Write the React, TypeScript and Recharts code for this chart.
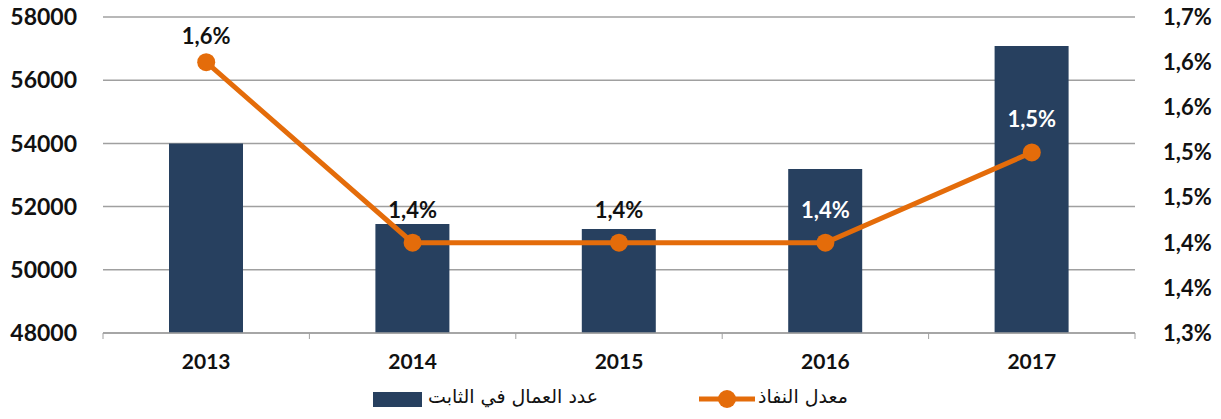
import React from "react";
import {
  ComposedChart,
  Bar,
  Line,
  XAxis,
  YAxis,
  CartesianGrid,
  LabelList,
} from "recharts";

const years = ["2013", "2014", "2015", "2016", "2017"];
const workers = [54000, 51450, 51290, 53190, 57080];
const rate = [1.6, 1.4, 1.4, 1.4, 1.5];
const leftTicks = [48000, 50000, 52000, 54000, 56000, 58000];
const rightTicks = [1.3, 1.35, 1.4, 1.45, 1.5, 1.55, 1.6, 1.65];

const BAR_NAME = "عدد العمال في الثابت";
const LINE_NAME = "معدل النفاذ";

const NAVY = "#27405f";
const ORANGE = "#e46c0a";
const GRID = "#a0a0a0";
const FONT = "Lato, 'Open Sans', sans-serif";

const data = years.map((y, i) => ({ year: y, workers: workers[i], rate: rate[i] }));

const fmtPct = (v: number) =>
  (Math.round(v * 10 + 1e-9) / 10).toFixed(1).replace(".", ",") + "%";

// Excel-style ticks between categories
function YearTick(props: any) {
  const { x, y, payload, index, visibleTicksCount } = props;
  const half = payload.offset || 103;
  const top = y - 8;
  return (
    <g>
      <line x1={x - half} x2={x - half} y1={top} y2={top + 6} stroke={GRID} />
      {index === visibleTicksCount - 1 && (
        <line x1={x + half} x2={x + half} y1={top} y2={top + 6} stroke={GRID} />
      )}
      <text
        x={x}
        y={y + 28}
        textAnchor="middle"
        fontSize={21}
        fontWeight={700}
        fontFamily={FONT}
        fill="#111"
      >
        {payload.value}
      </text>
    </g>
  );
}

function RateLabel(props: any) {
  const { x, y, value, index } = props;
  // labels sitting on top of a bar are white
  const onBar = workers[index] > 52000 && index > 0;
  return (
    <text
      x={x}
      y={Math.max(y - 33, 36)}
      dy={8}
      textAnchor="middle"
      fontSize={22}
      fontWeight={700}
      fontFamily={FONT}
      fill={onBar ? "#fff" : "#111"}
    >
      {fmtPct(value)}
    </text>
  );
}

export default function App() {
  return (
    <div style={{ position: "absolute", left: 0, top: 0, width: 1221, height: 419, background: "#fff" }}>
      <ComposedChart
        width={1221}
        height={419}
        data={data}
        margin={{ top: 17, right: 0, bottom: 56, left: 0 }}
        barCategoryGap={0}
      >
        <CartesianGrid yAxisId="left" vertical={false} stroke={GRID} strokeWidth={1.5} />
        <XAxis
          dataKey="year"
          height={30}
          axisLine={{ stroke: GRID, strokeWidth: 1.5 }}
          tickLine={false}
          tick={<YearTick />}
        />
        <YAxis
          yAxisId="left"
          width={103}
          domain={[48000, 58000]}
          ticks={leftTicks}
          axisLine={false}
          tickLine={false}
          tickSize={0}
          tickMargin={26}
          tick={{ fontSize: 23, fontWeight: 700, fontFamily: FONT, fill: "#111" }}
        />
        <YAxis
          yAxisId="right"
          orientation="right"
          width={86}
          domain={[1.3, 1.65]}
          ticks={rightTicks}
          tickFormatter={fmtPct}
          axisLine={false}
          tickLine={false}
          tickSize={0}
          tickMargin={28}
          tick={{ fontSize: 22, fontWeight: 700, fontFamily: FONT, fill: "#111", textAnchor: "start" }}
        />
        <Bar
          yAxisId="left"
          dataKey="workers"
          name={BAR_NAME}
          fill={NAVY}
          barSize={74}
          isAnimationActive={false}
        />
        <Line
          yAxisId="right"
          dataKey="rate"
          name={LINE_NAME}
          stroke={ORANGE}
          strokeWidth={5}
          dot={{ r: 9, fill: ORANGE, stroke: ORANGE, strokeWidth: 0 }}
          activeDot={false}
          isAnimationActive={false}
        >
          <LabelList dataKey="rate" content={<RateLabel />} />
        </Line>
      </ComposedChart>

      {/* legend */}
      <div style={{ position: "absolute", left: 0, top: 383, width: 1221, height: 32, fontFamily: "'DejaVu Sans', sans-serif", fontSize: 19 }}>
        <svg width={1221} height={32} style={{ position: "absolute", left: 0, top: 0 }}>
          <rect x={373} y={9} width={49} height={15} fill={NAVY} />
          <line x1={699} x2={755} y1={16} y2={16} stroke={ORANGE} strokeWidth={5} />
          <circle cx={727} cy={16} r={9} fill={ORANGE} />
        </svg>
        <span style={{ position: "absolute", left: 428, top: 2, direction: "rtl", color: "#111" }}>{BAR_NAME}</span>
        <span style={{ position: "absolute", left: 758, top: 2, direction: "rtl", color: "#111" }}>{LINE_NAME}</span>
      </div>
    </div>
  );
}
